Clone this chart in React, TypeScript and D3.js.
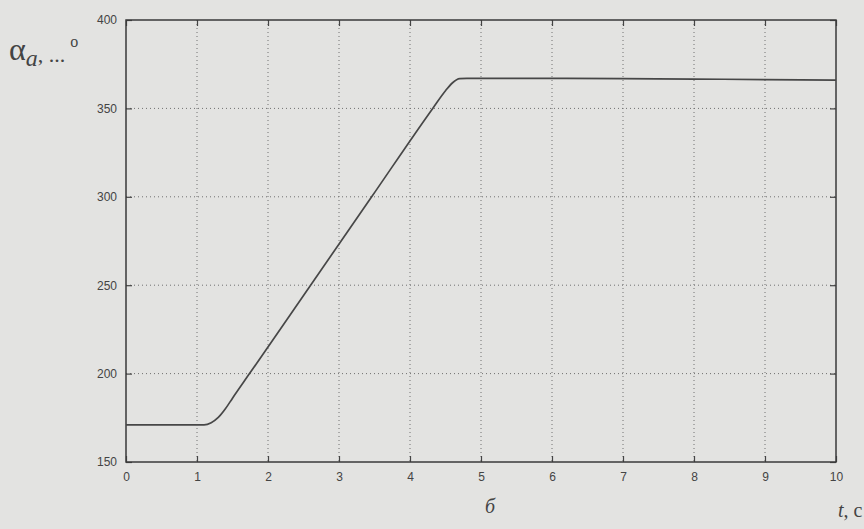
import React, { useRef, useEffect } from 'react';
import * as d3 from 'd3';

// values
const timeValues = [0, 0.5, 1.0, 1.1, 1.2, 1.3, 1.4, 1.5, 1.74, 2.6, 3.46, 4.32, 4.5, 4.6, 4.7, 4.8, 5, 6, 7, 8, 9, 10];
const angleValues = [171, 171, 171, 171, 172.2, 175.2, 180.1, 186.1, 200, 250, 300, 350, 360, 364.5, 366.8, 367, 367, 367, 366.8, 366.6, 366.3, 366];
const xTicks = [0, 1, 2, 3, 4, 5, 6, 7, 8, 9, 10];
const yTicks = [150, 200, 250, 300, 350, 400];

const App = () => {
  const ref = useRef<SVGSVGElement>(null);

  useEffect(() => {
    const W = 864;
    const H = 529;
    const margin = { top: 20, right: 28, bottom: 67, left: 126 };
    const width = W - margin.left - margin.right;
    const height = H - margin.top - margin.bottom;

    const root = d3.select(ref.current);
    root.selectAll('*').remove();

    root.append('rect').attr('width', W).attr('height', H).attr('fill', '#e3e3e1');

    const svg = root.append('g').attr('transform', `translate(${margin.left}, ${margin.top})`);

    const x = d3.scaleLinear().domain([0, 10]).range([0, width]);
    const y = d3.scaleLinear().domain([150, 400]).range([height, 0]);

    // dotted grid
    svg
      .append('g')
      .selectAll('line')
      .data(xTicks.slice(1, -1))
      .join('line')
      .attr('x1', (d) => x(d))
      .attr('x2', (d) => x(d))
      .attr('y1', 0)
      .attr('y2', height)
      .attr('stroke', '#707070')
      .attr('stroke-width', 1)
      .attr('stroke-dasharray', '1,3');
    svg
      .append('g')
      .selectAll('line')
      .data(yTicks.slice(1, -1))
      .join('line')
      .attr('x1', 0)
      .attr('x2', width)
      .attr('y1', (d) => y(d))
      .attr('y2', (d) => y(d))
      .attr('stroke', '#707070')
      .attr('stroke-width', 1)
      .attr('stroke-dasharray', '1,3');

    // ticks on all four sides (inward)
    const axisStyle = (g: any) => {
      g.select('.domain').remove();
      g.selectAll('.tick line').attr('stroke', '#444').attr('stroke-width', 1.2);
      g.selectAll('text')
        .attr('fill', '#444')
        .attr('font-family', '"Liberation Sans Narrow", "Liberation Sans", Arial, sans-serif')
        .attr('font-size', '12px');
    };
    svg
      .append('g')
      .attr('transform', `translate(0, ${height})`)
      .call(d3.axisBottom(x).tickValues(xTicks).tickSizeInner(-6).tickSizeOuter(0).tickPadding(10))
      .call(axisStyle);
    svg
      .append('g')
      .call(d3.axisTop(x).tickValues(xTicks).tickSizeInner(-6).tickSizeOuter(0).tickFormat(() => ''))
      .call(axisStyle);
    svg
      .append('g')
      .call(d3.axisLeft(y).tickValues(yTicks).tickSizeInner(-6).tickSizeOuter(0).tickPadding(9))
      .call(axisStyle);
    svg
      .append('g')
      .attr('transform', `translate(${width}, 0)`)
      .call(d3.axisRight(y).tickValues(yTicks).tickSizeInner(-6).tickSizeOuter(0).tickFormat(() => ''))
      .call(axisStyle);

    // box
    svg
      .append('rect')
      .attr('width', width)
      .attr('height', height)
      .attr('fill', 'none')
      .attr('stroke', '#3a3a3a')
      .attr('stroke-width', 1.5);

    const pts = timeValues.map((t, i) => [t, angleValues[i]] as [number, number]);
    svg
      .append('path')
      .datum(pts)
      .attr('fill', 'none')
      .attr('stroke', '#474747')
      .attr('stroke-width', 1.7)
      .attr(
        'd',
        d3
          .line<[number, number]>()
          .curve(d3.curveMonotoneX)
          .x((d) => x(d[0]))
          .y((d) => y(d[1]))
      );

    // y axis label
    const serif = '"Liberation Serif", "Times New Roman", serif';
    const yl = root.append('text').attr('x', 9).attr('y', 60).attr('fill', '#444').attr('font-family', serif);
    yl.append('tspan').attr('font-size', '32px').text('α');
    yl.append('tspan').attr('font-size', '24px').attr('font-style', 'italic').attr('dy', 6).text('a');
    yl.append('tspan').attr('font-size', '22px').attr('dy', -4).text(', ...');
    yl.append('tspan').attr('font-size', '16px').attr('dy', -15).attr('dx', 5).text('o');

    // panel letter and x axis label
    root
      .append('text')
      .attr('x', 490)
      .attr('y', 513)
      .attr('text-anchor', 'middle')
      .attr('fill', '#444')
      .attr('font-family', serif)
      .attr('font-style', 'italic')
      .attr('font-size', '20px')
      .text('б');
    const xl = root
      .append('text')
      .attr('x', 838)
      .attr('y', 517)
      .attr('fill', '#444')
      .attr('font-family', serif)
      .attr('font-size', '20px');
    xl.append('tspan').attr('font-style', 'italic').text('t');
    xl.append('tspan').text(', с');
  }, []);

  return <svg ref={ref} width={864} height={529} style={{ position: 'absolute', left: 0, top: 0 }} />;
};

export default App;
